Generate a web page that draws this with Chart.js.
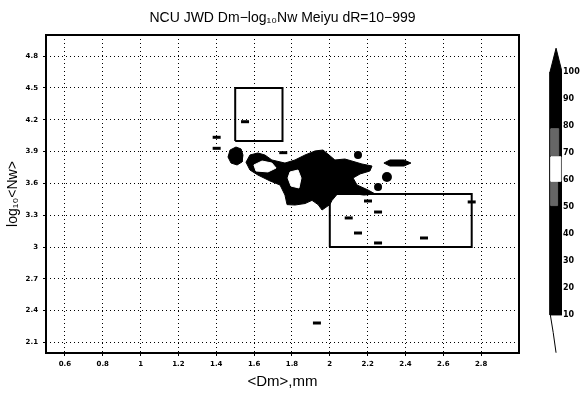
<!DOCTYPE html>
<html lang="en">
<head>
<meta charset="UTF-8">
<title>NCU JWD Dm-log10Nw Meiyu</title>
<script src="https://cdn.jsdelivr.net/npm/chart.js@4.4.0/dist/chart.umd.min.js"></script>
<style>
  body { margin: 0; background: #fff; }
  #wrap { position: relative; width: 587px; height: 394px; }
  #main { position: absolute; left: 0; top: 0; }
  #scale { position: absolute; left: 540px; top: 40px; }
</style>
</head>
<body>
<div id="wrap">
  <canvas id="main" width="587" height="394"></canvas>
  <canvas id="scale" width="47" height="330"></canvas>
</div>
<script>
// axis ticks
const xTicks = [0.6, 0.8, 1, 1.2, 1.4, 1.6, 1.8, 2, 2.2, 2.4, 2.6, 2.8];
const xTickLabels = ['0.6', '0.8', '1', '1.2', '1.4', '1.6', '1.8', '2', '2.2', '2.4', '2.6', '2.8'];
const yTicks = [2.1, 2.4, 2.7, 3, 3.3, 3.6, 3.9, 4.2, 4.5, 4.8];
const yTickLabels = ['2.1', '2.4', '2.7', '3', '3.3', '3.6', '3.9', '4.2', '4.5', '4.8'];

// reference boxes (Dm, log10Nw)
const boxUpper = [{x: 1.5, y: 4.0}, {x: 1.75, y: 4.0}, {x: 1.75, y: 4.5}, {x: 1.5, y: 4.5}, {x: 1.5, y: 4.0}];
const boxLower = [{x: 2.0, y: 3.0}, {x: 2.75, y: 3.0}, {x: 2.75, y: 3.5}, {x: 2.0, y: 3.5}, {x: 2.0, y: 3.0}];

// frequency contours: outer (black) level
const mainBlob = [
  {x: 1.557, y: 3.80}, {x: 1.578, y: 3.868}, {x: 1.62, y: 3.887}, {x: 1.657, y: 3.868},
  {x: 1.694, y: 3.821}, {x: 1.763, y: 3.792}, {x: 1.816, y: 3.821}, {x: 1.869, y: 3.868},
  {x: 1.922, y: 3.906}, {x: 1.964, y: 3.915}, {x: 1.99, y: 3.877}, {x: 2.027, y: 3.821},
  {x: 2.08, y: 3.83}, {x: 2.117, y: 3.811}, {x: 2.17, y: 3.783}, {x: 2.223, y: 3.764},
  {x: 2.212, y: 3.717}, {x: 2.16, y: 3.689}, {x: 2.123, y: 3.651}, {x: 2.144, y: 3.585},
  {x: 2.202, y: 3.538}, {x: 2.24, y: 3.50}, {x: 2.18, y: 3.49}, {x: 2.10, y: 3.51},
  {x: 2.04, y: 3.50}, {x: 2.012, y: 3.44}, {x: 2.0, y: 3.40}, {x: 1.959, y: 3.349},
  {x: 1.938, y: 3.40}, {x: 1.906, y: 3.44}, {x: 1.869, y: 3.41}, {x: 1.816, y: 3.396},
  {x: 1.774, y: 3.40}, {x: 1.763, y: 3.49}, {x: 1.737, y: 3.585}, {x: 1.684, y: 3.623},
  {x: 1.62, y: 3.679}, {x: 1.578, y: 3.726}, {x: 1.557, y: 3.80}
];
const roundBlob = [
  {x: 1.504, y: 3.943}, {x: 1.531, y: 3.925}, {x: 1.541, y: 3.868}, {x: 1.536, y: 3.802},
  {x: 1.51, y: 3.774}, {x: 1.478, y: 3.792}, {x: 1.462, y: 3.849}, {x: 1.473, y: 3.915},
  {x: 1.504, y: 3.943}
];
const dashBlob = [
  {x: 2.286, y: 3.792}, {x: 2.318, y: 3.821}, {x: 2.392, y: 3.821}, {x: 2.429, y: 3.792},
  {x: 2.392, y: 3.764}, {x: 2.318, y: 3.764}, {x: 2.286, y: 3.792}
];
// small round cells: centre and radius
const dotBlobs = [{x: 2.149, y: 3.868}, {x: 2.302, y: 3.66}, {x: 2.255, y: 3.566}];
const dotSizes = [4, 5, 4];

// inner (high-frequency) level
const corePatchA = [
  {x: 1.599, y: 3.774}, {x: 1.642, y: 3.811}, {x: 1.694, y: 3.792}, {x: 1.716, y: 3.745},
  {x: 1.673, y: 3.708}, {x: 1.61, y: 3.717}, {x: 1.599, y: 3.774}
];
const corePatchB = [
  {x: 1.79, y: 3.708}, {x: 1.832, y: 3.726}, {x: 1.848, y: 3.651}, {x: 1.837, y: 3.557},
  {x: 1.795, y: 3.575}, {x: 1.779, y: 3.651}, {x: 1.79, y: 3.708}
];

// isolated low counts
const sparse = [
  {x: 1.402, y: 4.035}, {x: 1.402, y: 3.931}, {x: 1.552, y: 4.182}, {x: 1.754, y: 3.89},
  {x: 2.202, y: 3.434}, {x: 2.255, y: 3.33}, {x: 2.10, y: 3.274}, {x: 2.149, y: 3.132},
  {x: 2.255, y: 3.038}, {x: 2.498, y: 3.085}, {x: 2.75, y: 3.425}, {x: 1.932, y: 2.283}
];

// colour scale levels
const scaleTicks = [10, 20, 30, 40, 50, 60, 70, 80, 90, 100];
const scaleBar = [{x: 0.455, y: 10}, {x: 1, y: 10}, {x: 1, y: 100}, {x: 0.455, y: 100}, {x: 0.455, y: 10}];
const scaleTop = [{x: 0.455, y: 100}, {x: 1, y: 100}, {x: 0.73, y: 108.8}, {x: 0.455, y: 100}];
const scaleTail = [{x: 0.47, y: 10}, {x: 0.6, y: 3.5}, {x: 0.73, y: -4}];
const scaleLight = [{x: 0.5, y: 59.5}, {x: 0.95, y: 59.5}, {x: 0.95, y: 68.6}, {x: 0.5, y: 68.6}, {x: 0.5, y: 59.5}];
const scaleGreyLow = [{x: 0.5, y: 50.5}, {x: 0.8, y: 50.5}, {x: 0.8, y: 59.5}, {x: 0.5, y: 59.5}, {x: 0.5, y: 50.5}];
const scaleGreyHigh = [{x: 0.5, y: 69}, {x: 0.85, y: 69}, {x: 0.85, y: 79}, {x: 0.5, y: 79}, {x: 0.5, y: 69}];

const FONT = 'Liberation Sans';

function shape(data, color, order) {
  return {
    data, order, showLine: true, fill: 'shape', tension: 0,
    backgroundColor: color, borderColor: color, borderWidth: 1, pointRadius: 0
  };
}

// frame round the plot area
const frame = {
  id: 'frame',
  afterDatasetsDraw(chart) {
    const {ctx, chartArea: a} = chart;
    ctx.save();
    ctx.strokeStyle = '#000';
    ctx.lineWidth = 2;
    ctx.strokeRect(a.left, a.top, a.right - a.left, a.bottom - a.top);
    ctx.restore();
  }
};

new Chart(document.getElementById('main'), {
  type: 'line',
  data: {
    datasets: [
      {data: boxUpper, order: 0, borderColor: '#000', borderWidth: 2, pointRadius: 0, fill: false, tension: 0},
      {data: boxLower, order: 0, borderColor: '#000', borderWidth: 2, pointRadius: 0, fill: false, tension: 0},
      {data: sparse, order: 1, showLine: false, pointStyle: 'line', pointRadius: 4,
        pointBorderWidth: 3, pointBorderColor: '#000', pointBackgroundColor: '#000'},
      shape(corePatchA, '#fff', 2),
      shape(corePatchB, '#fff', 2),
      shape(mainBlob, '#000', 3),
      shape(roundBlob, '#000', 3),
      shape(dashBlob, '#000', 3),
      {data: dotBlobs, order: 3, showLine: false, pointStyle: 'circle', pointRadius: dotSizes,
        pointBorderWidth: 0, pointBackgroundColor: '#000'}
    ]
  },
  options: {
    responsive: false,
    animation: false,
    devicePixelRatio: 1,
    layout: {padding: {left: 0, right: 68, top: 0, bottom: 0}, autoPadding: false},
    plugins: {
      legend: {display: false},
      tooltip: {enabled: false},
      title: {
        display: true,
        fullSize: false,
        text: 'NCU JWD Dm\u2212log\u2081\u2080Nw Meiyu dR=10\u2212999',
        color: '#000',
        font: {family: FONT, size: 14, weight: 'normal', lineHeight: 1.2},
        padding: {top: 10, bottom: 8.2}
      }
    },
    scales: {
      x: {
        type: 'linear', min: 0.5, max: 3.0,
        afterBuildTicks: s => { s.ticks = xTicks.map(v => ({value: v})); },
        afterFit: s => { s.height = 41; },
        ticks: {
          callback: (v, i) => xTickLabels[i], color: '#000', autoSkip: false, maxRotation: 0,
          font: {family: 'DejaVu Sans', size: 7, weight: 'bold'}, padding: 4
        },
        grid: {color: '#000', lineWidth: 1, tickLength: 3, tickColor: '#000'},
        border: {display: false, dash: [1, 3]},
        title: {display: true, text: '<Dm>,mm', color: '#000',
          font: {family: FONT, size: 15}, padding: {top: 2, bottom: 3}}
      },
      y: {
        type: 'linear', min: 2.0, max: 5.0,
        afterBuildTicks: s => { s.ticks = yTicks.map(v => ({value: v})); },
        afterFit: s => { s.width = 46; },
        ticks: {
          callback: (v, i) => yTickLabels[i], color: '#000', autoSkip: false,
          font: {family: 'DejaVu Sans', size: 7, weight: 'bold'}, padding: 5
        },
        grid: {color: '#000', lineWidth: 1, tickLength: 3, tickColor: '#000'},
        border: {display: false, dash: [1, 3]},
        title: {display: true, text: 'log\u2081\u2080<Nw>', color: '#000',
          font: {family: FONT, size: 14}, padding: {top: 5, bottom: 0}}
      }
    }
  },
  plugins: [frame]
});

// colour scale on the right
new Chart(document.getElementById('scale'), {
  type: 'line',
  data: {
    datasets: [
      shape(scaleLight, '#fff', 1),
      shape(scaleGreyLow, '#666', 1),
      shape(scaleGreyHigh, '#666', 1),
      shape(scaleBar, '#000', 2),
      shape(scaleTop, '#000', 2),
      {data: scaleTail, order: 2, borderColor: '#000', borderWidth: 1, pointRadius: 0, fill: false, tension: 0}
    ]
  },
  options: {
    responsive: false,
    animation: false,
    devicePixelRatio: 1,
    layout: {padding: 0, autoPadding: false},
    plugins: {legend: {display: false}, tooltip: {enabled: false}},
    scales: {
      x: {type: 'linear', min: 0, max: 1, display: false},
      y: {
        type: 'linear', position: 'right', min: -10.4, max: 111.85,
        afterBuildTicks: s => { s.ticks = scaleTicks.map(v => ({value: v})); },
        afterFit: s => { s.width = 25; s.paddingTop = 0; s.paddingBottom = 0; },
        ticks: {color: '#000', font: {family: 'DejaVu Sans', size: 8, weight: 'bold'}, padding: 1},
        grid: {display: false, drawTicks: false},
        border: {display: false}
      }
    }
  }
});
</script>
</body>
</html>
